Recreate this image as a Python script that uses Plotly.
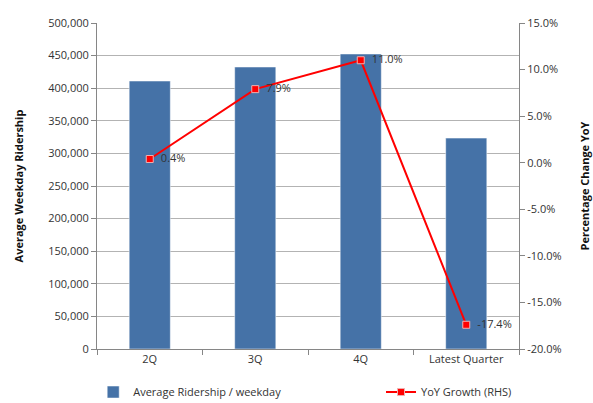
import plotly.graph_objects as go

categories = ["2Q", "3Q", "4Q", "Latest Quarter"]
ridership = [411000, 432500, 452500, 323500]
yoy_growth = [0.4, 7.9, 11.0, -17.4]
yoy_labels = ["0.4%", "7.9%", "11.0%", "-17.4%"]

left_ticks = list(range(0, 500001, 50000))
left_labels = [f"{v:,}" for v in left_ticks]
right_ticks = [15, 10, 5, 0, -5, -10, -15, -20]
right_labels = [f"{v:.1f}%" for v in right_ticks]

font_family = "Open Sans, Liberation Sans, sans-serif"

fig = go.Figure()
fig.add_trace(go.Bar(
    x=categories, y=ridership, name="Average Ridership / weekday",
    marker=dict(color="#4572A7", line=dict(color="#ffffff", width=0.5)),
    yaxis="y", legend="legend",
))
fig.add_trace(go.Scatter(
    x=categories, y=yoy_growth, name="YoY Growth (RHS)",
    mode="lines+markers+text", text=["  " + t for t in yoy_labels],
    textposition="middle right",
    textfont=dict(size=11, color="#333333", family=font_family),
    line=dict(color="#FF0000", width=2),
    marker=dict(symbol="square", size=7, color="#FF0000", line=dict(color="#f0b0b0", width=1)),
    yaxis="y2", cliponaxis=False, legend="legend2",
))

fig.update_layout(
    width=593, height=403,
    margin=dict(l=97, r=74, t=23, b=54, autoexpand=False),
    paper_bgcolor="white", plot_bgcolor="white",
    font=dict(family=font_family, size=11, color="#333333"),
    bargap=0.61,
    showlegend=True,
    legend=dict(orientation="h", x=-0.009, xanchor="left", y=-0.132, yanchor="middle",
                font=dict(size=11), itemwidth=30),
    legend2=dict(orientation="h", x=0.673, xanchor="left", y=-0.132, yanchor="middle",
                 font=dict(size=11), itemwidth=30),
    xaxis=dict(
        type="category", showline=True, linecolor="#868686", linewidth=1,
        ticks="outside", tickson="boundaries", ticklen=5, tickcolor="#868686",
        showgrid=False, tickfont=dict(size=11),
    ),
    yaxis=dict(
        range=[0, 500000], tickvals=left_ticks, ticktext=left_labels,
        showline=True, linecolor="#868686", linewidth=1,
        ticks="outside", ticklen=5, tickcolor="#868686",
        showgrid=True, gridcolor="#b3b3b3", gridwidth=1, zeroline=False,
        title=dict(text="<b>Average Weekday Ridership</b>", font=dict(size=11, color="#111111"), standoff=22),
    ),
    yaxis2=dict(
        range=[-20, 15], tickvals=right_ticks, ticktext=right_labels,
        overlaying="y", side="right",
        showline=True, linecolor="#868686", linewidth=1,
        ticks="outside", ticklen=5, tickcolor="#868686",
        showgrid=False, zeroline=False,
        title=dict(text="<b>Percentage Change YoY</b>", font=dict(size=11, color="#111111"), standoff=20),
    ),
)

fig.write_html("out.html", config={"displayModeBar": False},
               post_script="document.body.style.margin='0';document.body.style.overflow='hidden';")
